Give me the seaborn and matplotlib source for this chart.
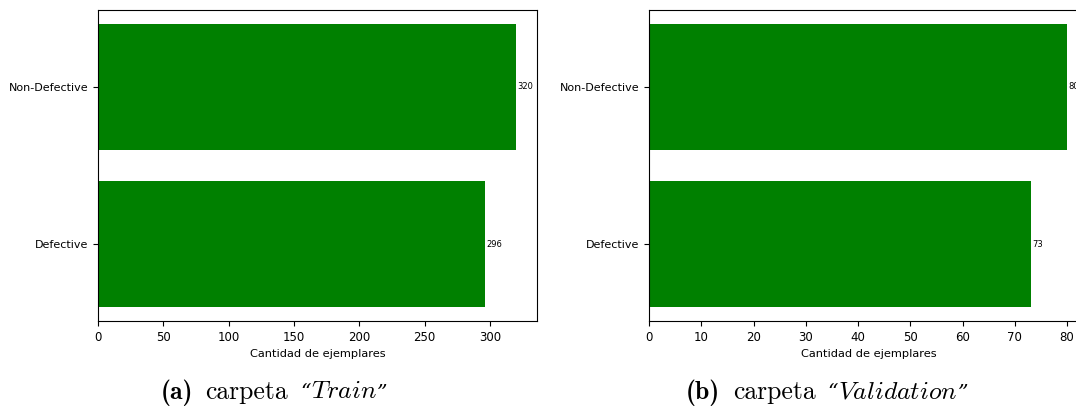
import matplotlib
matplotlib.use("Agg")
import matplotlib.pyplot as plt
import seaborn as sns
import pandas as pd
from matplotlib.offsetbox import TextArea, HPacker, AnchoredOffsetbox

categories = ["Non-Defective", "Defective"]
train_counts = [320, 296]
val_counts = [80, 73]
xlabel = "Cantidad de ejemplares"
captions = [("(a)", "Train"), ("(b)", "Validation")]

plt.rcParams["mathtext.fontset"] = "cm"

fig = plt.figure(figsize=(10.76, 4.07), dpi=100)
ax1 = fig.add_axes([98 / 1076, 86 / 407, 439 / 1076, 311 / 407])
ax2 = fig.add_axes([649 / 1076, 86 / 407, 439 / 1076, 311 / 407])

for ax, vals in [(ax1, train_counts), (ax2, val_counts)]:
    df = pd.DataFrame({"cat": categories, "n": vals})
    sns.barplot(data=df, x="n", y="cat", orient="h", color="green",
                saturation=1, width=0.8, ax=ax)
    for c in ax.containers:
        ax.bar_label(c, fontsize=6, padding=1)
    ax.set_xlim(0, max(vals) * 1.05)
    ax.set_ylim(1.49, -0.49)
    ax.set_xlabel(xlabel, fontsize=8.2)
    ax.set_ylabel("")
    ax.tick_params(axis="y", labelsize=8)
    ax.tick_params(axis="x", labelsize=8.5)

centers = [274 / 1076, 827 / 1076]
fs = 18.5
for (lab, word), cx in zip(captions, centers):
    parts = [
        TextArea(lab, textprops=dict(family="cmb10", fontsize=fs)),
        TextArea("carpeta", textprops=dict(family="cmr10", fontsize=fs)),
        TextArea("“", textprops=dict(family="DejaVu Serif", style="italic", fontsize=fs * 0.8)),
        TextArea(r"$\mathit{" + word + r"}$", textprops=dict(fontsize=fs)),
        TextArea("”", textprops=dict(family="DejaVu Serif", style="italic", fontsize=fs * 0.8)),
    ]
    row1 = HPacker(children=parts[2:], align="baseline", pad=0, sep=0)
    row = HPacker(children=parts[:2] + [row1], align="baseline", pad=0, sep=9)
    box = AnchoredOffsetbox(loc="lower center", child=row, pad=0, frameon=False,
                            bbox_to_anchor=(cx, 1.5 / 407),
                            bbox_transform=fig.transFigure, borderpad=0)
    fig.add_artist(box)

fig.savefig("out.png", dpi=100)
